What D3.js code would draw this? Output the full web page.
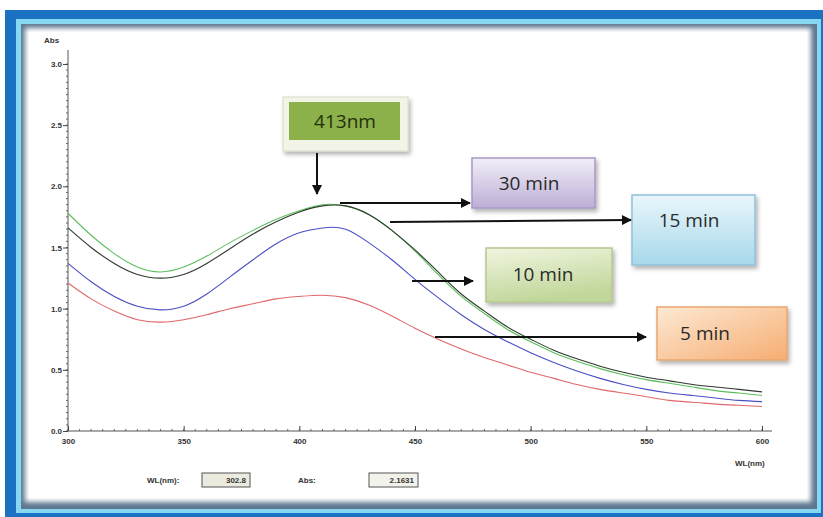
<!DOCTYPE html>
<html>
<head>
<meta charset="utf-8">
<script src="https://cdn.jsdelivr.net/npm/d3@7/dist/d3.min.js"></script>
<style>
  html, body { margin: 0; padding: 0; background: #fff; }
  svg { display: block; }
</style>
</head>
<body>
<svg id="chart" width="823" height="517"></svg>
<script>
// UV-Vis absorbance spectra recorded at several reaction times
const wavelengths = [300,310,320,330,340,350,360,370,380,390,400,410,420,430,440,450,
                     460,470,480,490,500,510,520,530,540,550,560,570,580,590,600];
const absGreen = [1.78,1.60,1.45,1.34,1.30,1.34,1.43,1.54,1.64,1.73,1.80,1.85,1.84,1.77,1.64,1.47,
                  1.28,1.10,0.96,0.83,0.73,0.64,0.57,0.51,0.46,0.42,0.39,0.36,0.33,0.31,0.29];
const absBlack = [1.66,1.50,1.37,1.28,1.25,1.28,1.37,1.49,1.61,1.71,1.79,1.84,1.84,1.77,1.64,1.48,
                  1.30,1.12,0.98,0.85,0.75,0.66,0.59,0.53,0.48,0.44,0.41,0.38,0.36,0.34,0.32];
const absBlue  = [1.37,1.22,1.10,1.02,0.99,1.02,1.12,1.26,1.40,1.53,1.62,1.66,1.65,1.54,1.40,1.24,
                  1.09,0.95,0.83,0.73,0.64,0.56,0.49,0.43,0.38,0.34,0.31,0.29,0.27,0.25,0.24];
const absRed   = [1.21,1.08,0.98,0.91,0.89,0.91,0.95,1.00,1.04,1.08,1.10,1.11,1.09,1.03,0.94,0.84,
                  0.75,0.67,0.60,0.54,0.48,0.43,0.38,0.34,0.31,0.28,0.25,0.235,0.22,0.21,0.20];

const xTicks = [300,350,400,450,500,550,600];
const yTicks = [0.0,0.5,1.0,1.5,2.0,2.5,3.0];

const timeLabels = ["30 min","15 min","10 min","5 min"];
const peakLabel = "413nm";
const readoutWL = "302.8";
const readoutAbs = "2.1631";

const svg = d3.select("#chart");
const defs = svg.append("defs");

// ---- window frame ----
svg.append("rect").attr("x",5).attr("y",10).attr("width",818).attr("height",507).attr("fill","#1b72c2");
svg.append("rect").attr("x",16).attr("y",19).attr("width",805).attr("height",494).attr("fill","#86d8f2");
svg.append("rect").attr("x",21).attr("y",24).attr("width",796).attr("height",485).attr("fill","#5d7790");
const soft = defs.append("filter").attr("id","soft").attr("x","-5%").attr("y","-5%").attr("width","110%").attr("height","110%");
soft.append("feGaussianBlur").attr("stdDeviation",2.5);
svg.append("rect").attr("x",25).attr("y",28).attr("width",786).attr("height",474)
  .attr("fill","#ffffff").attr("filter","url(#soft)");
svg.append("rect").attr("x",29).attr("y",32).attr("width",778).attr("height",466).attr("fill","#ffffff");

// ---- scales ----
const x = d3.scaleLinear().domain([300,600]).range([68,762]);
const y = d3.scaleLinear().domain([0,3]).range([431,64]);

// ---- axes ----
const axisColor = "#333";
const g = svg.append("g");
g.append("line").attr("x1",x(300)).attr("x2",x(300)).attr("y1",y(0)).attr("y2",50)
  .attr("stroke","#555").attr("stroke-width",1);
g.append("line").attr("x1",x(300)).attr("x2",772).attr("y1",y(0)).attr("y2",y(0))
  .attr("stroke","#555").attr("stroke-width",1);

// minor ticks
const yMinor = d3.range(0, 3.0001, 0.05);
g.selectAll(".ymin").data(yMinor).join("line")
  .attr("x1",x(300)-2).attr("x2",x(300))
  .attr("y1",d=>y(d)).attr("y2",d=>y(d)).attr("stroke","#666").attr("stroke-width",1);
const xMinor = d3.range(300, 600.001, 5);
g.selectAll(".xmin").data(xMinor).join("line")
  .attr("x1",d=>x(d)).attr("x2",d=>x(d))
  .attr("y1",y(0)).attr("y2",y(0)-2).attr("stroke","#666").attr("stroke-width",1);

const yAxis = d3.axisLeft(y).tickValues(yTicks).tickFormat(d3.format(".1f")).tickSize(5).tickPadding(1);
const ya = g.append("g").attr("transform",`translate(${x(300)},0)`).call(yAxis);
ya.select(".domain").remove();
ya.selectAll("text").attr("font-family","Liberation Sans, Arial, sans-serif")
  .attr("font-size",8).attr("font-weight","bold").attr("fill",axisColor);
ya.selectAll("line").attr("stroke","#444");

const xAxis = d3.axisBottom(x).tickValues(xTicks).tickFormat(d3.format("d")).tickSize(0).tickPadding(7);
const xa = g.append("g").attr("transform",`translate(0,${y(0)})`).call(xAxis);
xa.select(".domain").remove();
xa.selectAll("text").attr("font-family","Liberation Sans, Arial, sans-serif")
  .attr("font-size",8).attr("font-weight","bold").attr("fill",axisColor);
xa.selectAll(".tick").append("line").attr("y1",0).attr("y2",-5).attr("stroke","#444");

svg.append("text").attr("x",44).attr("y",43).text("Abs")
  .attr("font-family","Liberation Sans, Arial, sans-serif").attr("font-size",8)
  .attr("font-weight","bold").attr("fill",axisColor);
svg.append("text").attr("x",735).attr("y",466).text("WL(nm)")
  .attr("font-family","Liberation Sans, Arial, sans-serif").attr("font-size",8)
  .attr("font-weight","bold").attr("fill",axisColor);

// ---- spectra ----
const line = d3.line().x((d,i)=>x(wavelengths[i])).y(d=>y(d)).curve(d3.curveNatural);
const series = [
  {vals: absRed,   color: "#e0686b"},
  {vals: absBlue,  color: "#4a4fc4"},
  {vals: absGreen, color: "#5cbf5c"},
  {vals: absBlack, color: "#2e3a2e"}
];
svg.append("g").selectAll("path").data(series).join("path")
  .attr("d", d=>line(d.vals)).attr("fill","none")
  .attr("stroke", d=>d.color).attr("stroke-width",1.1);

// ---- annotation boxes ----
const shadow = defs.append("filter").attr("id","shadow").attr("x","-20%").attr("y","-20%").attr("width","140%").attr("height","150%");
shadow.append("feDropShadow").attr("dx",2).attr("dy",3).attr("stdDeviation",2).attr("flood-color","#000").attr("flood-opacity",0.3);

function grad(id, c1, c2, x2, y2) {
  const lg = defs.append("linearGradient").attr("id",id)
    .attr("x1","0").attr("y1","0").attr("x2",x2).attr("y2",y2);
  lg.append("stop").attr("offset","0%").attr("stop-color",c1);
  lg.append("stop").attr("offset","100%").attr("stop-color",c2);
}
grad("gPurple","#f2eef7","#bcaed6","0","1");
grad("gBlue","#eaf6fb","#a6d8ea","0","1");
grad("gGreen","#f1f5e0","#c1d79a","0.3","1");
grad("gOrange","#fde9d4","#f6ad72","1","1");

const boxFont = "'Open Sans', 'Noto Sans', sans-serif";
const ann = svg.append("g");

// peak label
ann.append("rect").attr("x",283).attr("y",97).attr("width",125).attr("height",54)
  .attr("fill","#f3f4e8").attr("stroke","#d8dcc8").attr("filter","url(#shadow)");
ann.append("rect").attr("x",289).attr("y",102).attr("width",111).attr("height",38)
  .attr("fill","#8cb04a");
ann.append("text").attr("x",345).attr("y",128).attr("text-anchor","middle")
  .attr("font-family",boxFont).attr("font-size",19).attr("fill","#23300c").text(peakLabel);

const boxes = [
  {label: timeLabels[0], x:472, y:158, w:123, h:50, fill:"url(#gPurple)", stroke:"#a898c4", tx:529, ty:190},
  {label: timeLabels[1], x:632, y:195, w:123, h:70, fill:"url(#gBlue)",   stroke:"#8fc2d8", tx:689, ty:227},
  {label: timeLabels[2], x:486, y:248, w:126, h:54, fill:"url(#gGreen)",  stroke:"#b4c890", tx:543, ty:281},
  {label: timeLabels[3], x:657, y:307, w:130, h:53, fill:"url(#gOrange)", stroke:"#eaa670", tx:705, ty:340}
];
const bg = ann.selectAll(".box").data(boxes).join("g");
bg.append("rect").attr("x",d=>d.x).attr("y",d=>d.y).attr("width",d=>d.w).attr("height",d=>d.h)
  .attr("fill",d=>d.fill).attr("stroke",d=>d.stroke).attr("stroke-width",1.5).attr("filter","url(#shadow)");
bg.append("text").attr("x",d=>d.tx).attr("y",d=>d.ty).attr("text-anchor","middle")
  .attr("font-family",boxFont).attr("font-size",19).attr("fill","#2a2a2a").text(d=>d.label);

// arrows
defs.append("marker").attr("id","arrow").attr("viewBox","0 0 10 10").attr("refX",9).attr("refY",5)
  .attr("markerWidth",6).attr("markerHeight",5).attr("orient","auto").attr("markerUnits","strokeWidth")
  .append("path").attr("d","M0,0 L10,5 L0,10 Z").attr("fill","#111");
const arrows = [
  [317,153,317,194],
  [340,203,470,203],
  [390,222,631,220],
  [412,281,473,281],
  [435,337,646,337]
];
ann.selectAll(".arr").data(arrows).join("line")
  .attr("x1",d=>d[0]).attr("y1",d=>d[1]).attr("x2",d=>d[2]).attr("y2",d=>d[3])
  .attr("stroke","#111").attr("stroke-width",2).attr("marker-end","url(#arrow)");

// ---- cursor readout ----
const ro = svg.append("g").attr("font-family","Liberation Sans, Arial, sans-serif")
  .attr("font-size",8).attr("font-weight","bold").attr("fill","#333");
ro.append("text").attr("x",147).attr("y",483).text("WL(nm):");
ro.append("rect").attr("x",202).attr("y",473).attr("width",48).attr("height",14)
  .attr("fill","#ecebdf").attr("stroke","#555");
ro.append("text").attr("x",246).attr("y",483).attr("text-anchor","end").text(readoutWL);
ro.append("text").attr("x",298).attr("y",483).text("Abs:");
ro.append("rect").attr("x",369).attr("y",473).attr("width",49).attr("height",14)
  .attr("fill","#f3f3ec").attr("stroke","#555");
ro.append("text").attr("x",414).attr("y",483).attr("text-anchor","end").text(readoutAbs);
</script>
</body>
</html>
